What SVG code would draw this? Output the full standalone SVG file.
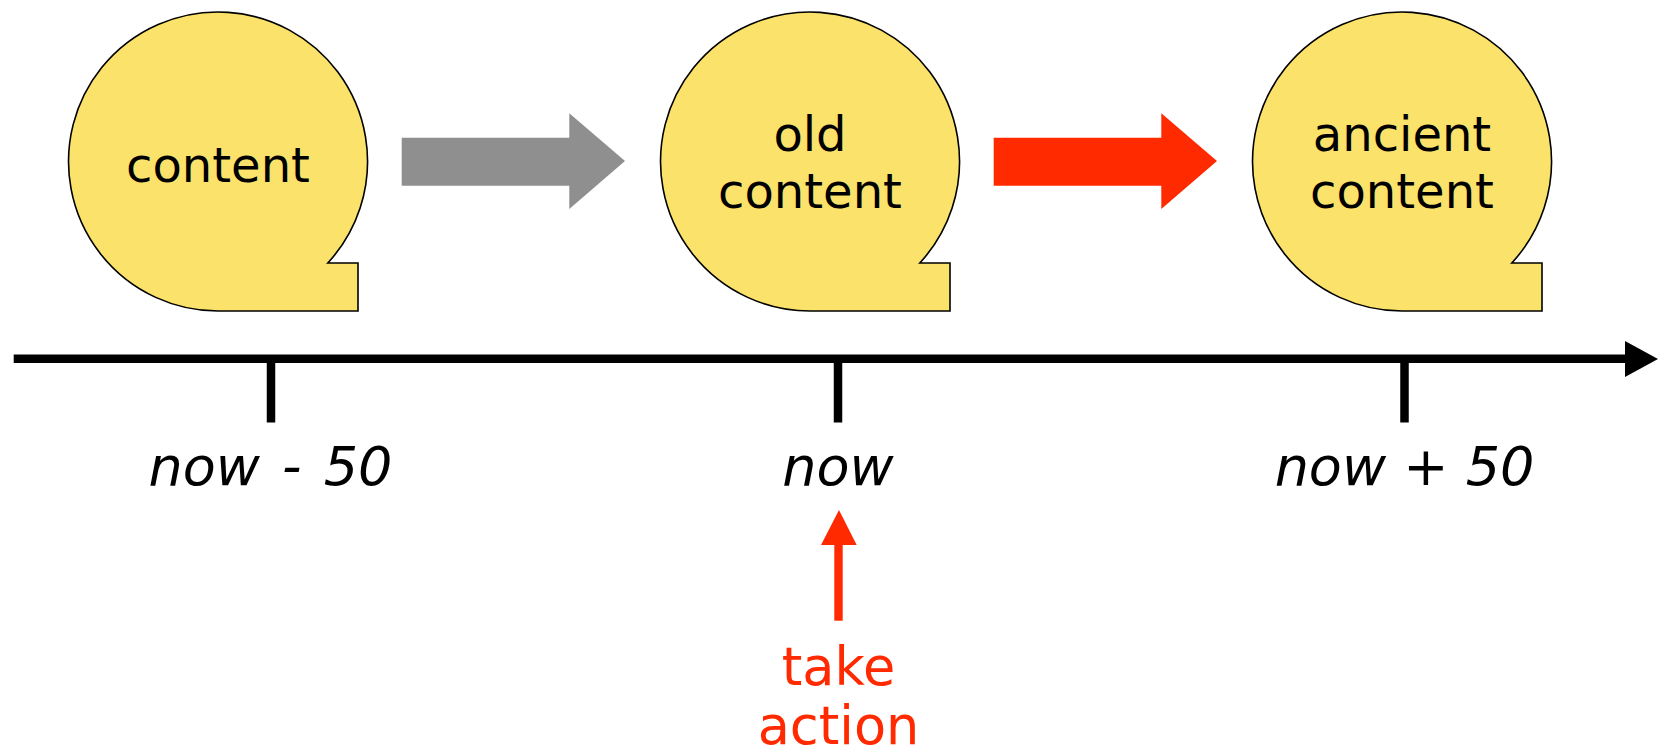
<svg xmlns="http://www.w3.org/2000/svg" width="1658" height="749" viewBox="0 0 1658 749">
<style>
.bubble{fill:#FBE26A;stroke:#000;stroke-width:1.6}
.btxt{font-family:"DejaVu Sans",Verdana,sans-serif;font-size:48px;fill:#000;text-anchor:middle}
.ttxt{font-family:"DejaVu Sans",Verdana,sans-serif;font-size:54px;font-style:italic;fill:#000;text-anchor:middle}
.rtxt{font-family:"DejaVu Sans",Verdana,sans-serif;font-size:52.5px;fill:#FF2A00;text-anchor:middle}
.axis{stroke:#000;stroke-width:8.5;fill:none}
</style>
<defs>
<path id="bub" d="M0,311 L140,311 L140,263 L109.8,263 A149.5 149.5 0 1 0 0,311 Z"/>
</defs>
<g id="connectors">
<polygon id="arrow-gray" fill="#8F8F8F" points="401.7,137.7 569.3,137.7 569.3,113.3 625,161 569.3,209 569.3,185.7 401.7,185.7"/>
<polygon id="arrow-red" fill="#FF2A00" points="993.7,137.7 1161.3,137.7 1161.3,113.3 1217,161 1161.3,209 1161.3,185.7 993.7,185.7"/>
<line class="axis" x1="13.7" y1="358.7" x2="1627" y2="358.7"/>
<polygon fill="#000" points="1625,341 1658,359 1625,377"/>
<line class="axis" x1="271" y1="358" x2="271" y2="422.5"/>
<line class="axis" x1="838" y1="358" x2="838" y2="422.5"/>
<line class="axis" x1="1404.5" y1="358" x2="1404.5" y2="422.5"/>
<line stroke="#FF2A00" stroke-width="8.4" x1="838.5" y1="540" x2="838.5" y2="620.7"/>
<polygon fill="#FF2A00" points="821,545 839,510 856.7,545"/>
</g>
<g id="node-content">
<use href="#bub" x="218" class="bubble"/>
<text class="btxt" x="218" y="181.7">content</text>
</g>
<g id="node-old-content">
<use href="#bub" x="810" class="bubble"/>
<text class="btxt" x="810" y="150.5">old</text>
<text class="btxt" x="810" y="208">content</text>
</g>
<g id="node-ancient-content">
<use href="#bub" x="1402" class="bubble"/>
<text class="btxt" x="1402" y="150.5">ancient</text>
<text class="btxt" x="1402" y="208">content</text>
</g>
<g id="labels">
<text class="ttxt" x="270.5" y="485" word-spacing="5">now - 50</text>
<text class="ttxt" x="838" y="485">now</text>
<text class="ttxt" x="1404.5" y="485">now + 50</text>
<text class="rtxt" x="838.5" y="684.5">take</text>
<text class="rtxt" x="838.5" y="744">action</text>
</g>
</svg>
